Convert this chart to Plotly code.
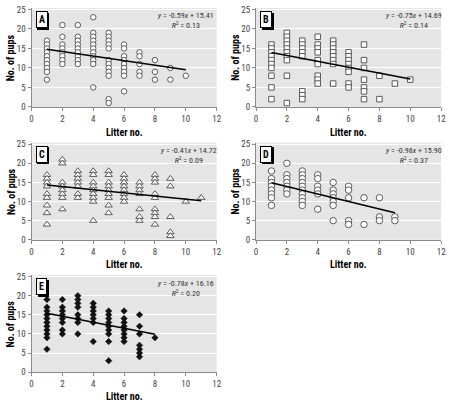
import plotly.graph_objects as go

# ---------------- data ----------------
a_x = [1]*10 + [2]*8 + [3]*9 + [4]*11 + [5]*12 + [6]*9 + [7]*5 + [8]*3 + [9]*2 + [10]
a_y = [17,16,15,14,13,12,11,10,9,7,
       21,18,16,15,14,13,12,11,
       21,18,17,16,15,14,13,12,11,
       23,19,18,17,16,15,14,13,12,11,5,
       19,18,17,16,15,12,11,10,9,8,2,1,
       16,15,13,12,11,10,9,8,4,
       14,13,11,9,8,
       12,9,7,
       10,7,
       8]

b_x = [1]*10 + [2]*10 + [3]*8 + [4]*9 + [5]*8 + [6]*8 + [7]*7 + [8]*2 + [9] + [10]
b_y = [16,15,14,13,12,11,10,8,5,2,
       19,18,17,16,15,14,13,12,8,1,
       17,16,15,14,13,4,3,2,
       18,16,15,14,12,11,8,7,6,
       17,16,15,14,13,12,11,6,
       14,13,12,11,10,9,6,5,
       16,12,10,7,5,4,2,
       8,2,
       6,
       7]

c_x = [1]*9 + [2]*8 + [3]*7 + [4]*9 + [5]*9 + [6]*8 + [7]*7 + [8]*9 + [9]*5 + [10] + [11]
c_y = [17,16,15,14,12,11,9,7,4,
       21,20,15,14,13,12,11,8,
       18,17,16,15,14,12,11,
       18,17,15,14,13,12,11,10,5,
       18,17,15,14,13,12,11,9,7,
       17,16,15,14,13,12,11,10,
       15,14,13,12,8,6,5,
       17,16,15,12,11,8,7,6,4,
       16,14,6,2,1,
       10,
       11]

d_x = [1]*8 + [2]*7 + [3]*10 + [4]*6 + [5]*7 + [6]*5 + [7]*2 + [8]*3 + [9]*2
d_y = [18,16,15,14,13,12,11,9,
       20,17,16,15,14,13,12,
       18,17,16,15,14,13,12,11,10,9,
       17,16,14,13,12,8,
       15,13,12,11,10,9,5,
       14,13,11,5,4,
       11,4,
       11,6,5,
       6,5]

e_x = [1]*11 + [2]*8 + [3]*8 + [4]*7 + [5]*9 + [6]*8 + [7]*7 + [8]
e_y = [19,17,16,15,14,13,12,11,10,9,6,
       19,17,16,15,14,13,11,10,
       20,19,18,17,15,14,13,10,
       18,17,16,15,14,13,8,
       16,15,14,13,12,11,10,8,3,
       16,14,13,12,11,10,9,8,
       15,12,10,7,6,5,4,
       9]

panel_labels = ["A", "B", "C", "D", "E"]
slopes = [-0.59, -0.75, -0.41, -0.98, -0.78]
intercepts = [15.41, 14.69, 14.72, 15.90, 16.16]
r2 = [0.13, 0.14, 0.09, 0.37, 0.20]
fit_ranges = [(1, 10), (1, 10), (1, 11), (1, 9), (1, 8)]
x_ticks = [0, 2, 4, 6, 8, 10, 12]
y_ticks = [0, 5, 10, 15, 20, 25]

# ---------------- layout geometry ----------------
W, H = 455, 408
FONT = "Liberation Sans Narrow, Roboto Condensed, Roboto, sans-serif"

def px2x(p):
    return p / W

def px2y(p):
    return 1 - p / H

# (x0, x1, ytop, ybottom) in page pixels
boxes = [
    (30, 218, 5.0, 106.0),
    (258, 446, 5.0, 106.0),
    (30, 218, 142.5, 241.5),
    (258, 446, 142.5, 241.5),
    (30, 218, 277.5, 376.5),
]
xtitle_y = [132, 132, 266.5, 266.5, 401]
ytitle_x = [9, 237, 9, 237, 9]

series = [(a_x, a_y), (b_x, b_y), (c_x, c_y), (d_x, d_y), (e_x, e_y)]
markers = [
    dict(symbol="circle", size=5.5, color="white", line=dict(color="#5a5a5a", width=1)),
    dict(symbol="square", size=5.5, color="white", line=dict(color="#5a5a5a", width=1)),
    dict(symbol="triangle-up", size=6.5, color="white", line=dict(color="#5a5a5a", width=1)),
    dict(symbol="circle", size=6.5, color="white", line=dict(color="#5a5a5a", width=1)),
    dict(symbol="diamond", size=5, color="#111111", line=dict(color="#111111", width=0.5)),
]
eq_xpos = [0.83, 0.85, 0.85, 0.85, 0.83]

fig = go.Figure()
annotations = []
layout = {}

for i in range(5):
    n = "" if i == 0 else str(i + 1)
    xa, ya = "x" + n, "y" + n
    x0, x1, yt, yb = boxes[i]
    xs, ys = series[i]
    fig.add_trace(go.Scatter(x=xs, y=ys, mode="markers", marker=markers[i],
                             xaxis=xa, yaxis=ya, showlegend=False, hoverinfo="x+y"))
    fx = list(fit_ranges[i])
    fy = [slopes[i] * v + intercepts[i] for v in fx]
    fig.add_trace(go.Scatter(x=fx, y=fy, mode="lines", line=dict(color="black", width=1.5),
                             xaxis=xa, yaxis=ya, showlegend=False, hoverinfo="skip"))

    axis_common = dict(showline=True, linecolor="#8a8a8a", linewidth=1, ticks="outside",
                       ticklen=3, tickcolor="#8a8a8a", tickfont=dict(family=FONT, size=9, color="#444"),
                       zeroline=False, fixedrange=True)
    layout["xaxis" + n] = dict(axis_common, domain=[px2x(x0), px2x(x1)], range=[0, 12],
                               tickvals=x_ticks, showgrid=False, anchor=ya)
    layout["yaxis" + n] = dict(axis_common, domain=[px2y(yb), px2y(yt)], range=[0, 25.4],
                               tickvals=y_ticks, showgrid=True, gridcolor="white", gridwidth=1,
                               anchor=xa)

    # gray plot background
    fig.add_shape(type="rect", xref=xa + " domain", yref=ya + " domain", x0=0, x1=1, y0=0, y1=1,
                  fillcolor="#e5e5e5", line=dict(width=0), layer="below")

    # equation text
    annotations.append(dict(
        xref=xa + " domain", yref=ya + " domain", x=eq_xpos[i], y=0.985, xanchor="center",
        yanchor="top", align="center", showarrow=False,
        text=f"<i>y</i> = {slopes[i]:.2f}<i>x</i> + {intercepts[i]:.2f}<br><i>R</i><sup>2</sup> = {r2[i]:.2f}",
        font=dict(family=FONT, size=8, color="#333")))
    # panel label with shadow
    annotations.append(dict(
        xref=xa + " domain", yref=ya + " domain", x=0.056, y=0.88, xanchor="center",
        yanchor="middle", showarrow=False, text="<b>" + panel_labels[i] + "</b>",
        font=dict(family=FONT, size=10, color="black"), bgcolor="black",
        bordercolor="black", borderwidth=1, borderpad=2, xshift=1.5, yshift=-1.5))
    annotations.append(dict(
        xref=xa + " domain", yref=ya + " domain", x=0.056, y=0.88, xanchor="center",
        yanchor="middle", showarrow=False, text="<b>" + panel_labels[i] + "</b>",
        font=dict(family=FONT, size=10, color="black"), bgcolor="white",
        bordercolor="black", borderwidth=1, borderpad=2))
    # axis titles
    annotations.append(dict(
        xref="paper", yref="paper", x=px2x((x0 + x1) / 2), y=px2y(xtitle_y[i]),
        xanchor="center", yanchor="middle", showarrow=False, text="<b>Litter no.</b>",
        font=dict(family=FONT, size=10, color="black")))
    annotations.append(dict(
        xref="paper", yref="paper", x=px2x(ytitle_x[i]), y=px2y((yt + yb) / 2),
        xanchor="center", yanchor="middle", showarrow=False, text="<b>No. of pups</b>",
        textangle=-90, font=dict(family=FONT, size=10, color="black")))

fig.update_layout(
    width=W, height=H,
    margin=dict(l=0, r=0, t=0, b=0),
    paper_bgcolor="white", plot_bgcolor="rgba(0,0,0,0)",
    font=dict(family=FONT, size=9, color="#333"),
    annotations=annotations,
    **layout,
)

fig.write_html("out.html", config={"displayModeBar": False},
               post_script="document.body.style.margin='0';document.body.style.overflow='hidden';")
